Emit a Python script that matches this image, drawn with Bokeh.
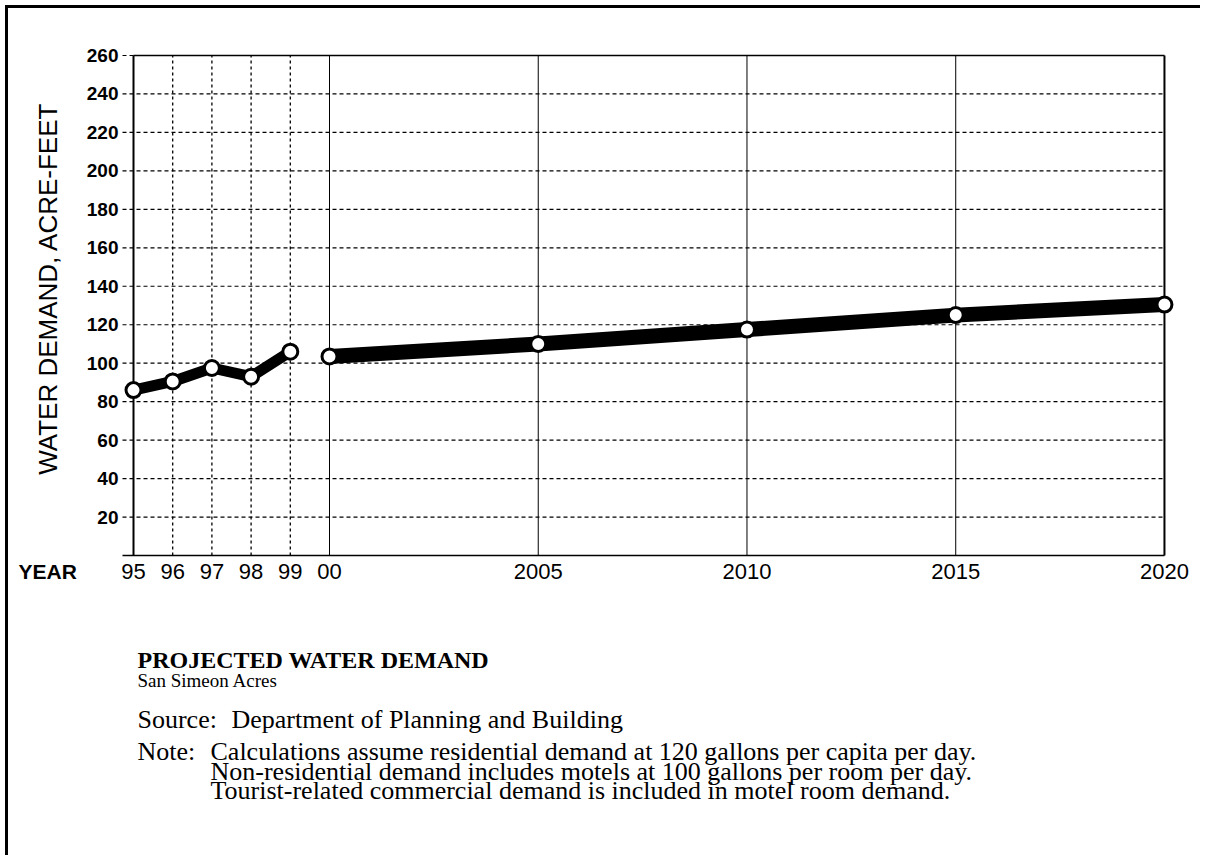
import math
from bokeh.plotting import figure
from bokeh.models import Range1d, Label, FixedTicker
from bokeh.embed import file_html
from bokeh.resources import INLINE

# ---- data ----
hist_years = [1995, 1996, 1997, 1998, 1999]
hist_demand = [86, 90.5, 97.5, 93, 106]
proj_years = [2000, 2005, 2010, 2015, 2020]
proj_demand = [103.5, 110, 117.5, 125, 130.5]
tick_years = [1995, 1996, 1997, 1998, 1999, 2000, 2005, 2010, 2015, 2020]
tick_labels = ["95", "96", "97", "98", "99", "00", "2005", "2010", "2015", "2020"]
y_ticks = [20, 40, 60, 80, 100, 120, 140, 160, 180, 200, 220, 240, 260]

title_text = "PROJECTED WATER DEMAND"
subtitle_text = "San Simeon Acres"
source_head = "Source:"
source_text = "Department of Planning and Building"
note_head = "Note:"
note_lines = [
    "Calculations assume residential demand at 120 gallons per capita per day.",
    "Non-residential demand includes motels at 100 gallons per room per day.",
    "Tourist-related commercial demand is included in motel room demand.",
]

# the chart's year axis is drawn with 1995-2000 slightly compressed
LATE_STRETCH = 1.065


def xpos(year):
    if year <= 2000:
        return round(year - 1995, 4)
    return round(5 + (year - 2000) * LATE_STRETCH, 4)


SANS = "Liberation Sans"
SERIF = "Liberation Serif"

# ---- layout (pixels) ----
FIG_W, FIG_H = 1195, 850
PAGE_OFF = 8                 # canvas origin on the page
AXIS_LEFT_PX = 133           # where 1995 sits
AXIS_BOTTOM_PX = 555         # where 0 sits
PX_PER_X = 39.2
PX_PER_Y = 500 / 260

x_first = xpos(tick_years[0])
x_last = xpos(tick_years[-1])
x_left_ext = x_first - 11 / PX_PER_X

x_start = x_first - (AXIS_LEFT_PX - PAGE_OFF) / PX_PER_X
y_start = -(PAGE_OFF + FIG_H - AXIS_BOTTOM_PX) / PX_PER_Y

p = figure(width=FIG_W, height=FIG_H, output_backend="svg", toolbar_location=None,
           x_range=Range1d(x_start, x_start + FIG_W / PX_PER_X),
           y_range=Range1d(y_start, y_start + FIG_H / PX_PER_Y),
           min_border=0, min_border_left=0, min_border_right=0,
           min_border_top=0, min_border_bottom=0,
           background_fill_color="white", border_fill_color="white",
           outline_line_color=None,
           stylesheets=[":host { margin-left: 5px; margin-top: 5px; "
                        "border-left: 3px solid black; border-top: 3px solid black; }"])
p.title.visible = False
p.xgrid.grid_line_color = None
p.ygrid.grid_line_color = None

# axes, placed at the chart's own origin
p.xaxis.fixed_location = 0
p.xaxis.ticker = FixedTicker(ticks=[xpos(y) for y in tick_years])
p.xaxis.major_label_overrides = {xpos(y): lab for y, lab in zip(tick_years, tick_labels)}
p.xaxis.axis_line_color = None
p.xaxis.major_tick_line_color = None
p.xaxis.minor_tick_line_color = None
p.xaxis.major_tick_out = 0
p.xaxis.major_tick_in = 0
p.xaxis.major_label_standoff = 8
p.xaxis.major_label_text_font = SANS
p.xaxis.major_label_text_font_size = "22px"
p.xaxis.major_label_text_color = "black"

p.yaxis.fixed_location = x_left_ext
p.yaxis.ticker = FixedTicker(ticks=y_ticks)
p.yaxis.axis_line_color = None
p.yaxis.major_tick_line_color = None
p.yaxis.minor_tick_line_color = None
p.yaxis.major_tick_out = 0
p.yaxis.major_tick_in = 0
p.yaxis.major_label_standoff = 4
p.yaxis.major_label_text_font = SANS
p.yaxis.major_label_text_font_style = "bold"
p.yaxis.major_label_text_font_size = "19px"
p.yaxis.major_label_text_color = "black"

# horizontal dashed grid lines
p.segment(x0=[x_left_ext] * len(y_ticks), x1=[x_last] * len(y_ticks),
          y0=y_ticks, y1=y_ticks, line_color="black", line_width=1.2,
          line_dash="4 3")
p.segment(x0=[x_first], x1=[x_last], y0=[y_ticks[-1]], y1=[y_ticks[-1]],
          line_color="black", line_width=1.3)

# vertical lines: dotted for 96-99, solid for the 5-year marks
early_inner = [xpos(y) for y in tick_years if 1995 < y < 2000]
late_inner = [xpos(y) for y in tick_years if 2000 <= y < 2020]
p.segment(x0=early_inner, x1=early_inner, y0=[0] * len(early_inner),
          y1=[y_ticks[-1]] * len(early_inner), line_color="black",
          line_width=1.3, line_dash="3 3")
p.segment(x0=late_inner, x1=late_inner, y0=[0] * len(late_inner),
          y1=[y_ticks[-1]] * len(late_inner), line_color="black", line_width=1)
p.segment(x0=[x_first, x_last], x1=[x_first, x_last], y0=[0, 0],
          y1=[y_ticks[-1]] * 2, line_color="black", line_width=2)
# x axis line
p.segment(x0=[x_left_ext], x1=[x_last], y0=[0], y1=[0], line_color="black",
          line_width=1.5)

# series
hx = [xpos(y) for y in hist_years]
px = [xpos(y) for y in proj_years]
p.line(hx, hist_demand, line_color="black", line_width=11, line_join="round")
p.line(px, proj_demand, line_color="black", line_width=15, line_join="round")
p.scatter(hx + px, hist_demand + proj_demand, size=15, marker="circle",
          fill_color="white", line_color="black", line_width=3)


# texts anchored at the axis corner (1995, 0) and shifted in pixels
def corner_label(text, dx, dy, **kw):
    p.add_layout(Label(x=x_first, y=0, x_offset=dx, y_offset=dy, text=text,
                       text_color="black", **kw))


corner_label("WATER DEMAND, ACRE-FEET", -86, 267, angle=math.pi / 2,
             text_align="center", text_baseline="middle", text_font=SANS,
             text_font_size="26px")
corner_label("YEAR", -115, -16, text_align="left", text_baseline="middle",
             text_font=SANS, text_font_style="bold", text_font_size="21px")
corner_label(title_text, 4, -104, text_font=SERIF, text_font_style="bold",
             text_font_size="24px", text_baseline="alphabetic")
corner_label(subtitle_text, 4, -125, text_font=SERIF, text_font_size="19px",
             text_baseline="alphabetic")
corner_label(source_head, 4, -164, text_font=SERIF, text_font_size="26px",
             text_baseline="alphabetic")
corner_label(source_text, 98, -164, text_font=SERIF, text_font_size="26px",
             text_baseline="alphabetic")
corner_label(note_head, 4, -196, text_font=SERIF, text_font_size="26px",
             text_baseline="alphabetic")
for i, line in enumerate(note_lines):
    corner_label(line, 77, -196 - 19.5 * i, text_font=SERIF,
                 text_font_size="26px", text_baseline="alphabetic")

open("out.html", "w").write(file_html(p, INLINE))
